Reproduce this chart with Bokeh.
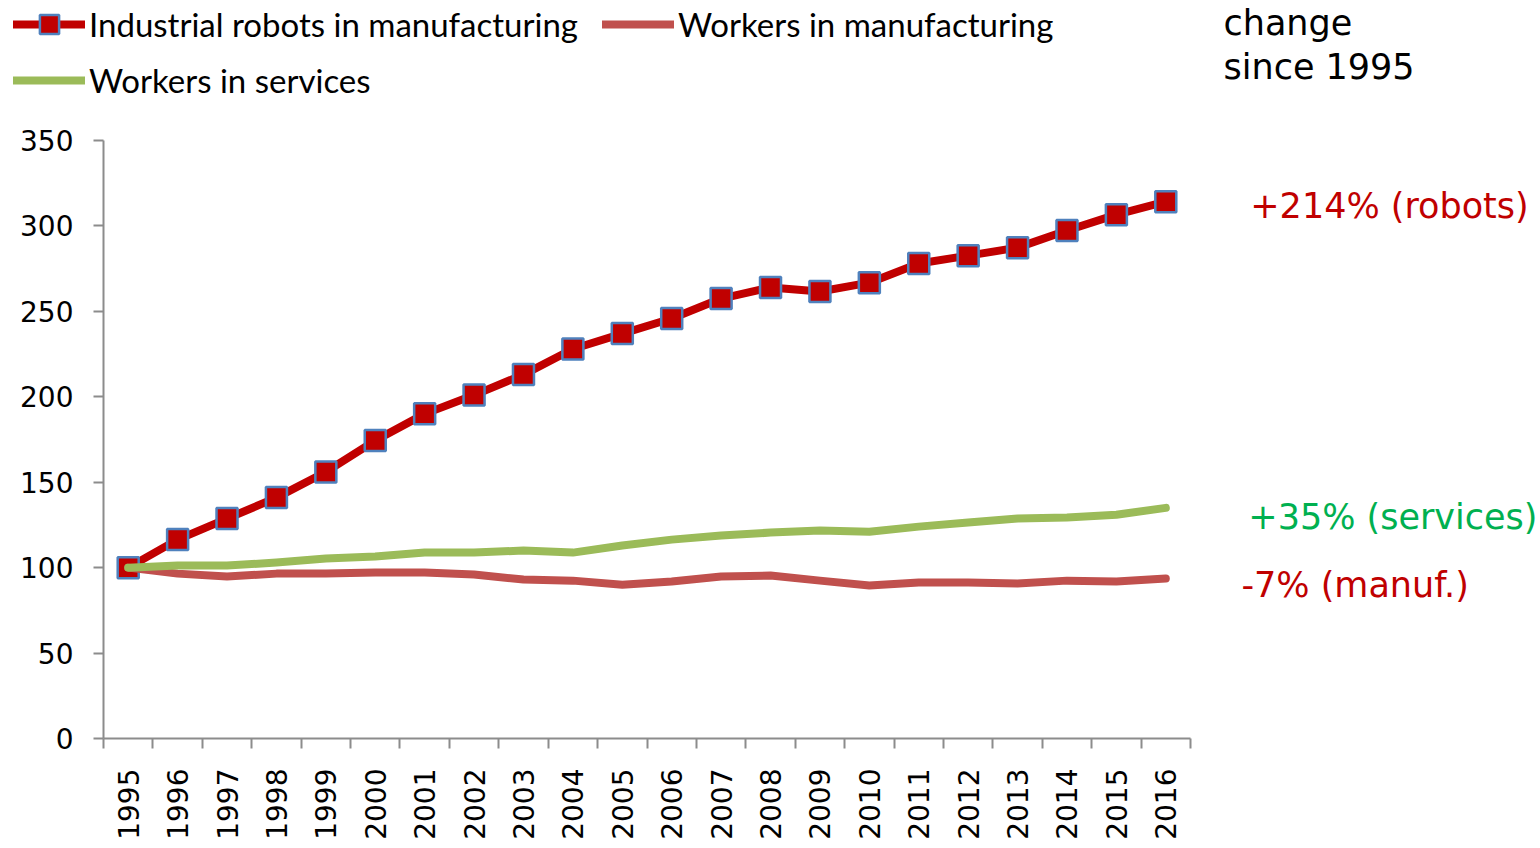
from bokeh.plotting import figure
from bokeh.layouts import column
from bokeh.models import (Range1d, FixedTicker, Legend, LegendItem, Label, ColumnDataSource)
from bokeh.embed import file_html
from bokeh.resources import INLINE

years = list(range(1995, 2017))
robots = [100, 116.4, 128.7, 141, 156, 174.4, 190, 201, 213, 228, 237, 245.8,
          257.5, 264, 261.6, 266.8, 278, 282.6, 287.3, 297.3, 306.6, 314.2]
manuf = [100, 96.5, 94.8, 96.5, 96.5, 97.1, 97.1, 96, 93, 92.4, 90, 91.9,
         94.8, 95.4, 92.4, 89.5, 91.3, 91.3, 90.7, 92.4, 91.9, 93.6]
services = [100, 101.2, 101.2, 103, 105.3, 106.5, 108.8, 108.8, 110, 108.8, 113, 116.4,
            118.8, 120.5, 121.7, 121, 124, 126.4, 128.7, 129.3, 131, 135]
y_ticks = [0, 50, 100, 150, 200, 250, 300, 350]
series_names = ["Industrial robots in manufacturing", "Workers in manufacturing", "Workers in services"]
annotations = ["+214% (robots)", "+35% (services)", "-7% (manuf.)"]
header = ["change", "since 1995"]

RED = "#C00000"
ROBOT_EDGE = "#4F81BD"
MANUF = "#C0504D"
SERV = "#9BBB59"
SERV_TXT = "#00B050"

W, TOP_H, H = 1540, 106, 848
PX_PER_YEAR = 1087 / 22

src = ColumnDataSource(dict(x=years, robots=robots, manuf=manuf, services=services))

# ---------- top strip: legend + header ----------
top = figure(width=W, height=TOP_H, frame_width=W, frame_height=TOP_H, min_border=0,
             x_range=Range1d(0, W), y_range=Range1d(0, TOP_H),
             x_axis_type=None, y_axis_type=None, output_backend="svg", toolbar_location=None)
top.outline_line_color = None
top.xgrid.visible = False
top.ygrid.visible = False
# legend proxies (hidden in the strip, only their legend glyphs are shown)
lg_r_line = top.line("x", "robots", source=src, line_color=RED, line_width=8, line_cap="round", visible=False)
lg_r_mark = top.scatter("x", "robots", source=src, marker="square", size=19,
                        fill_color=RED, line_color=ROBOT_EDGE, line_width=2.5, visible=False)
lg_m_line = top.line("x", "manuf", source=src, line_color=MANUF, line_width=8, line_cap="round", visible=False)
lg_s_line = top.line("x", "services", source=src, line_color=SERV, line_width=8, line_cap="round", visible=False)

legend_style = dict(orientation="horizontal", glyph_width=72, label_standoff=4, padding=0, margin=0,
                    label_text_font="Lato", label_text_font_size="33px", click_policy="none",
                    label_text_color="black", border_line_alpha=0, background_fill_alpha=0)
legend1 = Legend(items=[
    LegendItem(label=series_names[0], renderers=[lg_r_line, lg_r_mark]),
    LegendItem(label=series_names[1], renderers=[lg_m_line]),
], location=(13, 58), glyph_height=48, spacing=24, **legend_style)
legend2 = Legend(items=[
    LegendItem(label=series_names[2], renderers=[lg_s_line]),
], location=(13, 6), glyph_height=30, spacing=0, **legend_style)
top.add_layout(legend1, "center")
top.add_layout(legend2, "center")
top.add_layout(Label(x=1120, y=84, text=header[0], text_color="black", text_font="DejaVu Sans",
                     text_font_size="35px", text_baseline="middle"))
top.add_layout(Label(x=1120, y=40, text=header[1], text_color="black", text_font="DejaVu Sans",
                     text_font_size="35px", text_baseline="middle"))

# ---------- main chart ----------
frame_w = W - 103
x0 = years[0] - 0.5
p = figure(width=W, height=H - TOP_H, frame_width=frame_w, frame_height=598,
           min_border_left=103, min_border_right=0, min_border_top=140 - TOP_H, min_border_bottom=110,
           x_range=Range1d(x0, x0 + frame_w / PX_PER_YEAR), y_range=Range1d(0, 350),
           output_backend="svg", toolbar_location=None)
p.outline_line_color = None
p.xgrid.visible = False
p.ygrid.visible = False

r_line = p.line("x", "robots", source=src, line_color=RED, line_width=8, line_join="round")
r_mark = p.scatter("x", "robots", source=src, marker="square", size=21,
                   fill_color=RED, line_color=ROBOT_EDGE, line_width=2.5)
m_line = p.line("x", "manuf", source=src, line_color=MANUF, line_width=8,
                line_join="round", line_cap="round")
s_line = p.line("x", "services", source=src, line_color=SERV, line_width=8,
                line_join="round", line_cap="round")

yax = p.yaxis[0]
yax.ticker = FixedTicker(ticks=y_ticks)
yax.axis_line_color = "#8C8C8C"
yax.axis_line_width = 2
yax.major_tick_line_color = "#8C8C8C"
yax.major_tick_line_width = 2
yax.major_tick_out = 10
yax.major_tick_in = 0
yax.minor_tick_out = 0
yax.minor_tick_in = 0
yax.major_label_text_font = "DejaVu Sans"
yax.major_label_text_font_size = "28px"
yax.major_label_text_color = "black"
yax.major_label_standoff = 20

xax = p.xaxis[0]
xax.bounds = (x0, years[-1] + 0.5)
xax.ticker = FixedTicker(ticks=years, minor_ticks=[y - 0.5 for y in years] + [years[-1] + 0.5])
xax.axis_line_color = "#8C8C8C"
xax.axis_line_width = 2
xax.major_tick_out = 0
xax.major_tick_in = 0
xax.minor_tick_line_color = "#8C8C8C"
xax.minor_tick_line_width = 2
xax.minor_tick_out = 10
xax.minor_tick_in = 0
xax.major_label_orientation = 1.5708
xax.major_label_text_font = "DejaVu Sans"
xax.major_label_text_font_size = "28px"
xax.major_label_text_color = "black"
xax.major_label_standoff = 20

def add_label(txt, x, y, color):
    p.add_layout(Label(x=x, y=y, text=txt, text_color=color, text_font="DejaVu Sans",
                       text_font_size="35px", text_baseline="middle"))

add_label(annotations[0], 2017.71, 311.4, RED)
add_label(annotations[1], 2017.67, 129.9, SERV_TXT)
add_label(annotations[2], 2017.53, 90.1, RED)

layout = column(top, p, spacing=0)
open("out.html", "w").write(file_html(layout, INLINE))
